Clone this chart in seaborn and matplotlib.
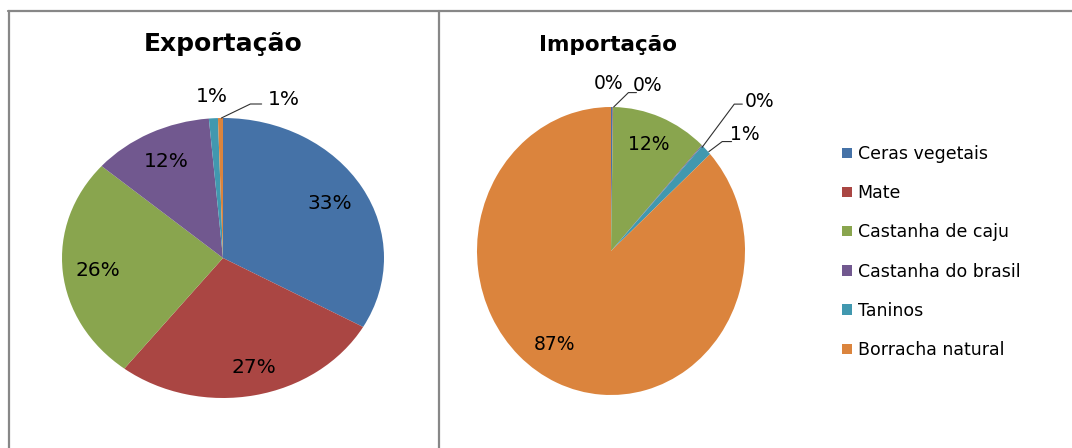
import matplotlib
matplotlib.use("Agg")
import matplotlib.pyplot as plt
from matplotlib.lines import Line2D
import seaborn as sns

sns.set_theme(style="white")
plt.rcParams['font.family'] = ['DejaVu Sans']
plt.rcParams['text.color'] = 'black'

categories = ["Ceras vegetais", "Mate", "Castanha de caju",
              "Castanha do brasil", "Taninos", "Borracha natural"]
exportacao = [33.2, 27.3, 25.9, 12.2, 0.9, 0.5]
importacao = [0.2, 0.05, 11.6, 0.1, 1.3, 86.75]
export_labels = ["33%", "27%", "26%", "12%", "1%", "1%"]
import_labels = ["0%", "0%", "12%", "0%", "1%", "87%"]

colors = sns.color_palette(["#4572A7", "#AA4643", "#89A54E",
                            "#71588F", "#4198AF", "#DB843D"])

W, H = 1072, 448
fig = plt.figure(figsize=(W / 100, H / 100), dpi=100)


def pix_axes(cx, cy, rx, ry):
    return fig.add_axes([(cx - rx) / W, (H - cy - ry) / H, 2 * rx / W, 2 * ry / H])


def draw_pie(ax, values, labels, label_pos, leaders, fs):
    wedges, _ = ax.pie(values, colors=colors, startangle=90, counterclock=False,
                       radius=1.0, wedgeprops=dict(linewidth=0))
    ax.set_aspect('auto')
    ax.set_xlim(-1, 1)
    ax.set_ylim(-1, 1)
    ax.axis('off')
    for lab, (x, y) in zip(labels, label_pos):
        ax.text(x, y, lab, ha='center', va='center', fontsize=fs,
                color='black', clip_on=False)
    for pts in leaders:
        xs, ys = zip(*pts)
        ax.plot(xs, ys, color='#303030', lw=0.8, clip_on=False)
    return wedges


# Exportação
ax1 = pix_axes(223, 258, 161, 140)
draw_pie(ax1, exportacao, export_labels,
         [(0.66, 0.39), (0.19, -0.78), (-0.78, -0.09), (-0.35, 0.69),
          (-0.07, 1.15), (0.38, 1.13)],
         [[(-0.01, 1.0), (0.17, 1.10), (0.24, 1.10)]], 14.5)
fig.text(223 / W, 1 - 44 / H, "Exportação", ha='center', va='center',
         fontsize=18, fontweight='bold')

# Importação
ax2 = pix_axes(611, 251, 134, 144)
wedges = draw_pie(ax2, importacao, import_labels,
                  [(-0.02, 1.16), (0.27, 1.15), (0.28, 0.74), (1.11, 1.04),
                   (1.00, 0.81), (-0.42, -0.65)],
                  [[(0.02, 1.0), (0.13, 1.10), (0.19, 1.10)],
                   [(0.68, 0.72), (0.92, 1.02), (0.98, 1.02)],
                   [(0.73, 0.69), (0.83, 0.76), (0.90, 0.76)]], 13.5)
fig.text(608 / W, 1 - 45 / H, "Importação", ha='center', va='center',
         fontsize=15.5, fontweight='bold')

fig.legend(wedges, categories, loc='upper left',
           bbox_to_anchor=(842 / W, 1 - 145 / H), frameon=False,
           fontsize=12.5, handlelength=0.55, handleheight=0.55,
           handletextpad=0.35, labelspacing=1.22, borderpad=0, borderaxespad=0)

# panel borders
lc = '#878787'
for (x0, y0, x1, y1) in [(8, 11, W, 11), (9, 11, 9, H), (439, 11, 439, H)]:
    fig.add_artist(Line2D([x0 / W, x1 / W], [1 - y0 / H, 1 - y1 / H],
                          transform=fig.transFigure, color=lc, lw=1.6))

fig.savefig("out.png", dpi=100, facecolor='white')
